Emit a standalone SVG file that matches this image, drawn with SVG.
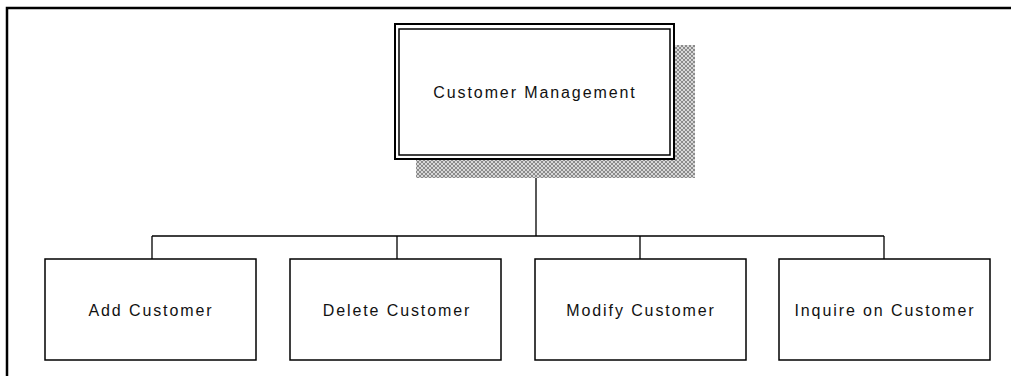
<svg xmlns="http://www.w3.org/2000/svg" width="1011" height="376" viewBox="0 0 1011 376">
<defs>
<pattern id="hatch" width="4" height="4" patternUnits="userSpaceOnUse">
<rect width="4" height="4" fill="#d8d8d8"/>
<path d="M0 0L4 4M4 0L0 4" stroke="#777" stroke-width="0.8"/>
</pattern>
<style>
.box{fill:#fff;stroke:#000;stroke-width:1.5}
.lbl{font-family:"Liberation Sans",Arial,sans-serif;font-size:16px;fill:#111;text-anchor:middle;letter-spacing:1.9px}
.conn{fill:none;stroke:#000;stroke-width:1.3}
</style>
</defs>
<rect width="1011" height="376" fill="#fff"/>
<path d="M7 376V8H1011" fill="none" stroke="#000" stroke-width="2.5"/>
<g id="connectors">
<path class="conn" d="M536 159V236M152 236H884M152 236V259M397 236V259M640 236V259M884 236V259"/>
</g>
<g id="root">
<rect x="416" y="45" width="279" height="133" fill="url(#hatch)"/>
<rect x="395" y="24" width="279" height="135" fill="#fff" stroke="#000" stroke-width="2"/>
<rect x="399" y="29" width="271" height="126" fill="none" stroke="#000" stroke-width="1.5"/>
<text class="lbl" x="535" y="98">Customer Management</text>
</g>
<g id="add">
<rect class="box" x="45" y="259" width="211" height="101"/>
<text class="lbl" x="151" y="316">Add Customer</text>
</g>
<g id="delete">
<rect class="box" x="290" y="259" width="211" height="101"/>
<text class="lbl" x="397" y="316">Delete Customer</text>
</g>
<g id="modify">
<rect class="box" x="535" y="259" width="211" height="101"/>
<text class="lbl" x="641" y="316">Modify Customer</text>
</g>
<g id="inquire">
<rect class="box" x="779" y="259" width="211" height="101"/>
<text class="lbl" x="885" y="316">Inquire on Customer</text>
</g>
</svg>
